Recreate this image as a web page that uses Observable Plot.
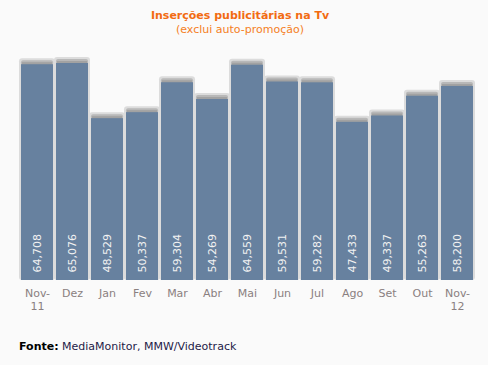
<!DOCTYPE html>
<html>
<head>
<meta charset="utf-8">
<script src="https://cdn.jsdelivr.net/npm/d3@7"></script>
<script src="https://cdn.jsdelivr.net/npm/@observablehq/plot@0.6"></script>
<style>
  html, body { margin: 0; padding: 0; background: #fafafa; }
  #wrap { width: 488px; height: 365px; position: relative; font-family: "DejaVu Sans", Verdana, sans-serif; }
  #title { position: absolute; left: 0; width: 480px; top: 9px; text-align: center; font-size: 11px; font-weight: bold; color: #f26b12; line-height: 13px; }
  #subtitle { position: absolute; left: 0; width: 480px; top: 23px; text-align: center; font-size: 11px; color: #f5801e; line-height: 13px; }
  #chart { position: absolute; left: 0; top: 42px; }
  #caption { position: absolute; left: 19px; top: 340px; font-size: 11px; color: #1e1a48; line-height: 13px; }
  #caption b { color: #000; }
</style>
</head>
<body>
<div id="wrap">
  <div id="title">Inserções publicitárias na Tv</div>
  <div id="subtitle">(exclui auto-promoção)</div>
  <div id="chart"></div>
  <div id="caption"><b>Fonte:</b> MediaMonitor, MMW/Videotrack</div>
</div>
<script>
const months = ["Nov-\n11", "Dez", "Jan", "Fev", "Mar", "Abr", "Mai", "Jun", "Jul", "Ago", "Set", "Out", "Nov-\n12"];
const values = [64708, 65076, 48529, 50337, 59304, 54269, 64559, 59531, 59282, 47433, 49337, 55263, 58200];
const data = months.map((m, i) => ({month: m, value: values[i]}));
const fmt = d3.format(",");

const chart = Plot.plot({
  width: 488,
  height: 280,
  marginTop: 21,
  marginBottom: 42,
  marginLeft: 18,
  marginRight: 13,
  style: {background: "transparent", fontFamily: "DejaVu Sans, Verdana, sans-serif"},
  x: {domain: months, paddingInner: 0.0965, paddingOuter: 0, axis: null},
  y: {domain: [0, 65076], axis: null},
  marks: [
    Plot.barY(data, {x: "month", y: "value", fill: "#dcdcdc", insetLeft: -2, insetRight: -2, insetTop: -6, rx: 3}),
    Plot.barY(data, {x: "month", y: "value", fill: "#b8b8b8", insetLeft: 0, insetRight: 0, insetTop: -4, rx: 2}),
    Plot.barY(data, {x: "month", y: "value", fill: "#a2a2a2", insetLeft: 1, insetRight: 1, insetTop: -2}),
    Plot.barY(data, {x: "month", y: "value", fill: "#67819f"}),
    Plot.text(data, {x: "month", y: 0, text: d => fmt(d.value), rotate: -90, textAnchor: "start", dx: 0, dy: -8, fill: "#f2f2f2", fontSize: 11}),
    Plot.axisX({domain: months, label: null, tickSize: 0, tickPadding: 7, fontSize: 11, lineHeight: 1.18, fill: "#8a8080", color: "#8a8080"})
  ]
});
document.getElementById("chart").appendChild(chart);
</script>
</body>
</html>
